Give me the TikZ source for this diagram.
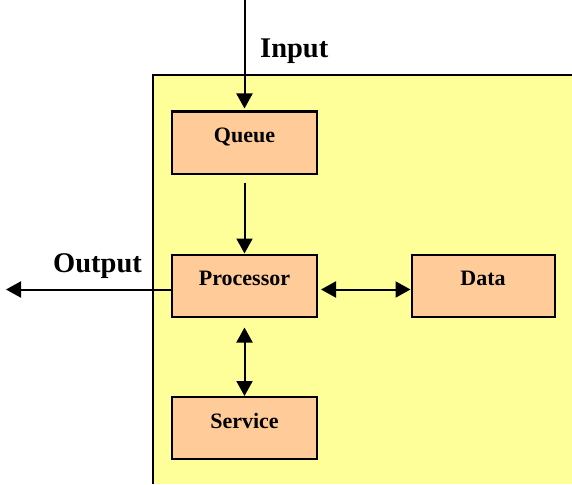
\documentclass[tikz,border=0pt]{standalone}
\usepackage{fontspec}
\setmainfont{Liberation Serif}
\usetikzlibrary{arrows.meta}
\definecolor{paleyellow}{HTML}{FFFF99}
\definecolor{peach}{HTML}{FFCC99}
\begin{document}
\begin{tikzpicture}[x=1pt,y=-1pt,
  box/.style={draw=black, fill=peach, line width=2pt, minimum width=145pt,
    inner sep=0pt, text height=31pt, text depth=31pt,
    font=\fontsize{22}{24}\selectfont\bfseries},
  flow/.style={line width=2pt, -{Triangle[length=15pt,width=16pt]}},
  both/.style={line width=2pt, {Triangle[length=15pt,width=16pt]}-{Triangle[length=15pt,width=16pt]}},
  tag/.style={font=\fontsize{28.5}{30}\selectfont\bfseries, inner sep=0pt, anchor=base west}]
\useasboundingbox (0,0) rectangle (572,484);

% system area
\fill[paleyellow] (153,75) rectangle (572,484);
\draw[line width=2pt] (153,484) -- (153,75) -- (572,75);

% components
\node[box] (queue) at (244.5,142.5) {Queue};
\node[box] (proc) at (244.5,285.5) {Processor};
\node[box, minimum width=143pt] (data) at (483,285.5) {Data};
\node[box] (serv) at (244.5,428) {Service};

% external labels
\node[tag] (inlabel) at (260,58) {Input};
\node[tag] (outlabel) at (53,272) {Output};

\coordinate (src) at (244.5,0);
\coordinate (sink) at (6,289.5);

% connectors
\draw[flow, shorten >=2pt] (src) -- (queue.north);
\draw[flow, shorten <=8pt] (queue.south) -- (proc.north);
\draw[flow] ([yshift=-4pt]proc.west) -- (sink);
\draw[both, shorten <=3pt] ([yshift=-4pt]proc.east) -- ([yshift=-4pt]data.west);
\draw[both, shorten <=10pt] (proc.south) -- (serv.north);
\end{tikzpicture}
\end{document}
